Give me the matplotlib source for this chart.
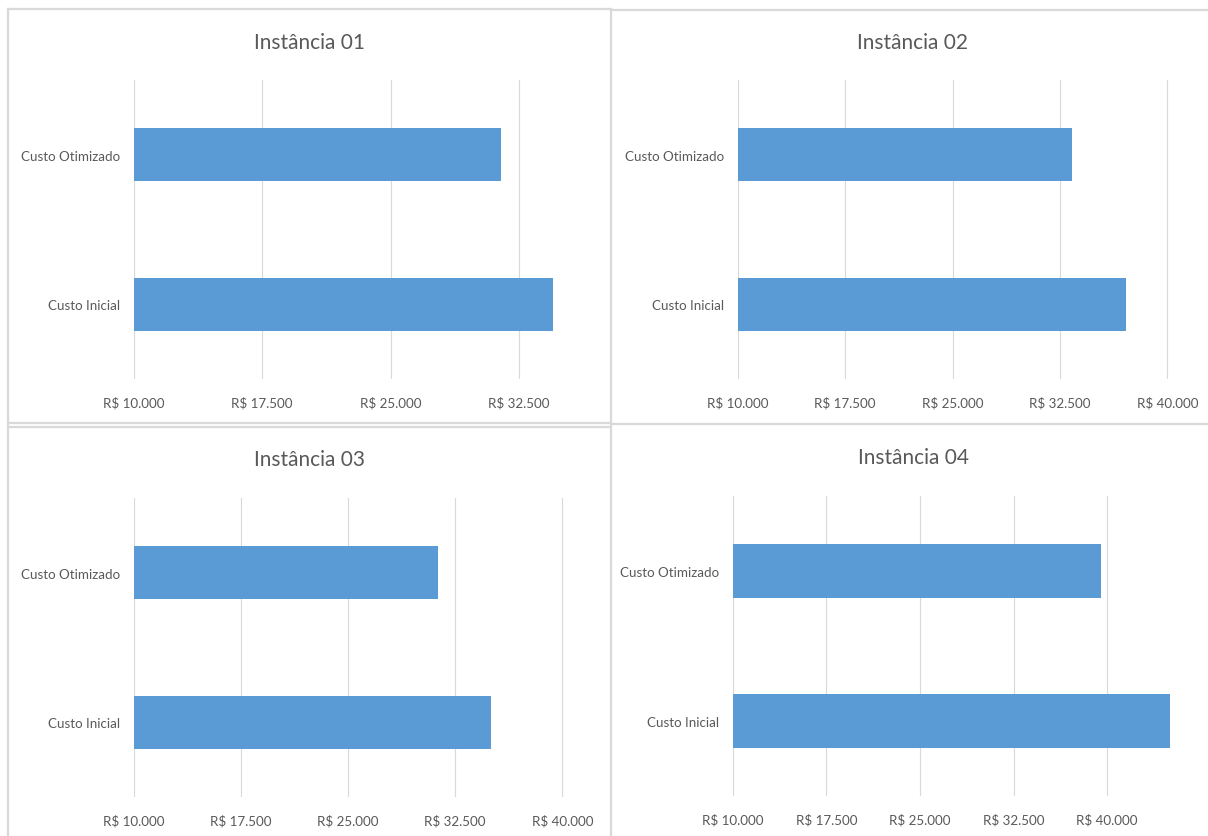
import matplotlib
matplotlib.use("Agg")
import matplotlib.pyplot as plt
from matplotlib.lines import Line2D
from matplotlib.ticker import FuncFormatter, FixedLocator

# ---------------- data ----------------
categories = ["Custo Inicial", "Custo Otimizado"]
titles = ["Instância 01", "Instância 02", "Instância 03", "Instância 04"]
inst01 = [34500, 31450]
inst02 = [37130, 33340]
inst03 = [35010, 31300]
inst04 = [45040, 39470]
tick_values = [10000, 17500, 25000, 32500, 40000]

# ---------------- style ----------------
W, H = 1208, 837
FONT = ["Lato", "DejaVu Sans"]
BAR = "#5B9BD5"
TXT = "#595959"
GRID = "#D9D9D9"
BORDER = "#D9D9D9"

plt.rcParams["font.family"] = FONT

fig = plt.figure(figsize=(W / 100, H / 100), dpi=100)
fig.patch.set_facecolor("white")


def fmt(v, pos=None):
    return "R$ " + f"{int(round(v)):,}".replace(",", ".")


# panel layout in pixels: (x at 10000, px per 7500, right edge, grid top, grid bottom,
#                          title x, title y)
layouts = [
    (133.6, 128.5, 600, 81, 380, 309, 43),
    (737.7, 107.4, 1208, 81, 380, 913, 43),
    (133.6, 107.2, 600, 499, 798, 309, 460),
    (732.6, 93.65, 1208, 497, 797, 914, 458),
]
data = [inst01, inst02, inst03, inst04]

for (x0, step, xr, yt, yb, tx, ty), vals, title in zip(layouts, data, titles):
    ax = fig.add_axes([x0 / W, 1 - yb / H, (xr - x0) / W, (yb - yt) / H])
    xmax = 10000 + (xr - x0) / step * 7500
    ax.barh(range(len(categories)), vals, height=0.355, color=BAR, zorder=3)
    ax.set_xlim(10000, xmax)
    ax.set_ylim(-0.5, len(categories) - 0.5)
    ax.set_yticks(range(len(categories)))
    ax.set_yticklabels(categories)
    ax.xaxis.set_major_locator(FixedLocator(tick_values))
    ax.xaxis.set_major_formatter(FuncFormatter(fmt))
    ax.grid(axis="x", color=GRID, linewidth=0.8, zorder=0)
    ax.set_axisbelow(True)
    for s in ax.spines.values():
        s.set_visible(False)
    ax.tick_params(axis="both", length=0, colors=TXT, labelsize=9.6)
    ax.tick_params(axis="y", pad=9.6)
    ax.tick_params(axis="x", pad=12.2)
    ax.patch.set_alpha(0)
    fig.text(tx / W, 1 - ty / H, title, ha="center", va="center",
             fontsize=15, color=TXT)

# panel borders (chart-area outlines)
def hline(y, x1, x2):
    fig.add_artist(Line2D([x1 / W, x2 / W], [1 - y / H, 1 - y / H],
                          color=BORDER, linewidth=1.6, transform=fig.transFigure))


def vline(x, y1, y2):
    fig.add_artist(Line2D([x / W, x / W], [1 - y1 / H, 1 - y2 / H],
                          color=BORDER, linewidth=1.6, transform=fig.transFigure))


hline(10, 8, 611)
hline(11, 611, W)
hline(424, 8, 611)
hline(428, 8, 611)
hline(425, 611, W)
vline(8, 10, H)
vline(611, 10, H)

fig.savefig("out.png", dpi=100, facecolor="white")
